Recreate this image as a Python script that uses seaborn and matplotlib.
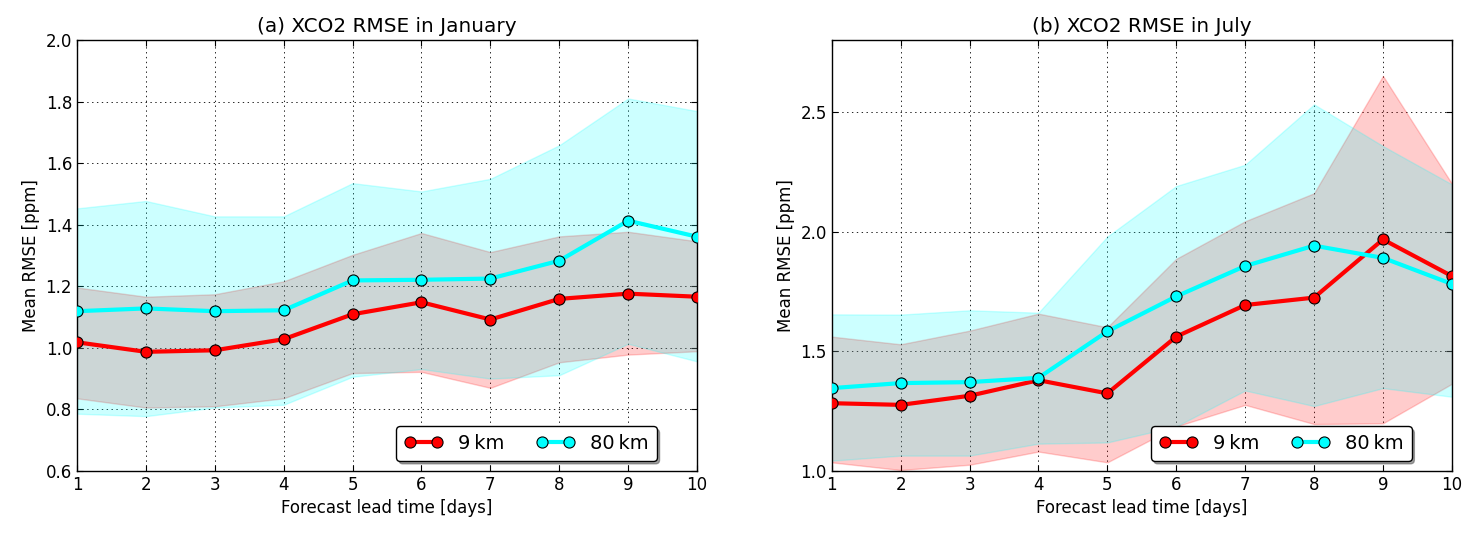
import numpy as np
import matplotlib
matplotlib.use("Agg")
import matplotlib.pyplot as plt
import seaborn as sns

# lead times
days = [1, 2, 3, 4, 5, 6, 7, 8, 9, 10]

# (a) January
jan_9km = [1.018, 0.987, 0.992, 1.028, 1.109, 1.148, 1.092, 1.159, 1.176, 1.166]
jan_9km_lo = [0.836, 0.806, 0.810, 0.836, 0.918, 0.922, 0.870, 0.953, 0.978, 0.989]
jan_9km_hi = [1.196, 1.166, 1.174, 1.216, 1.302, 1.373, 1.311, 1.362, 1.377, 1.346]
jan_80km = [1.119, 1.128, 1.119, 1.122, 1.219, 1.221, 1.225, 1.283, 1.413, 1.361]
jan_80km_lo = [0.786, 0.778, 0.806, 0.815, 0.906, 0.931, 0.900, 0.911, 1.013, 0.956]
jan_80km_hi = [1.453, 1.477, 1.427, 1.427, 1.535, 1.508, 1.549, 1.658, 1.810, 1.769]

# (b) July
jul_9km = [1.283, 1.276, 1.314, 1.379, 1.324, 1.561, 1.693, 1.724, 1.967, 1.814]
jul_9km_lo = [1.036, 1.004, 1.026, 1.081, 1.036, 1.186, 1.276, 1.196, 1.199, 1.364]
jul_9km_hi = [1.561, 1.529, 1.586, 1.657, 1.600, 1.886, 2.043, 2.160, 2.650, 2.200]
jul_80km = [1.346, 1.367, 1.371, 1.389, 1.583, 1.729, 1.856, 1.941, 1.890, 1.781]
jul_80km_lo = [1.043, 1.064, 1.064, 1.114, 1.119, 1.186, 1.336, 1.271, 1.346, 1.310]
jul_80km_hi = [1.654, 1.653, 1.671, 1.661, 1.979, 2.190, 2.279, 2.531, 2.357, 2.197]

titles = ["(a) XCO2 RMSE in January", "(b) XCO2 RMSE in July"]

sns.set_style("ticks", {
    "axes.edgecolor": "black",
    "axes.grid": True,
    "grid.color": "black",
    "xtick.direction": "in",
    "ytick.direction": "in",
    "xtick.top": True,
    "ytick.right": True,
    "text.color": "black",
    "axes.labelcolor": "black",
    "xtick.color": "black",
    "ytick.color": "black",
})
plt.rcParams["font.family"] = ["DejaVu Sans"]
plt.rcParams["lines.scale_dashes"] = False
plt.rcParams["grid.linestyle"] = (0, (1, 2.5))
plt.rcParams["grid.linewidth"] = 0.6
plt.rcParams["axes.linewidth"] = 1.0

fig = plt.figure(figsize=(14.8, 5.37), dpi=100)
ax1 = fig.add_axes([0.052, 0.123, 0.419, 0.8025])
ax2 = fig.add_axes([0.562, 0.123, 0.419, 0.8025])

panels = [
    (ax1, jan_9km, jan_9km_lo, jan_9km_hi, jan_80km, jan_80km_lo, jan_80km_hi),
    (ax2, jul_9km, jul_9km_lo, jul_9km_hi, jul_80km, jul_80km_lo, jul_80km_hi),
]

for i, (ax, r, rlo, rhi, c, clo, chi) in enumerate(panels):
    ax.fill_between(days, rlo, rhi, color="red", alpha=0.2, lw=1)
    ax.fill_between(days, clo, chi, color="cyan", alpha=0.2, lw=1)
    sns.lineplot(x=days, y=r, ax=ax, color="red", lw=3, marker="o", markersize=8,
                 markeredgecolor="black", markeredgewidth=0.8, label="9\u2009km", zorder=4)
    sns.lineplot(x=days, y=c, ax=ax, color="cyan", lw=3, marker="o", markersize=8,
                 markeredgecolor="black", markeredgewidth=0.8, label="80\u2009km", zorder=4)
    ax.set_xlim(1, 10)
    ax.set_xticks(days)
    ax.set_title(titles[i], fontsize=14.4, color="black")
    ax.set_xlabel("Forecast lead time [days]", fontsize=12)
    ax.set_ylabel("Mean RMSE [ppm]", fontsize=12)
    ax.tick_params(labelsize=12, length=4, color="black", labelcolor="black")
    for sp in ax.spines.values():
        sp.set_visible(True)
    ax.legend(loc="lower right", bbox_to_anchor=(0.935, 0.023), borderaxespad=0,
              ncol=2, shadow=True, fancybox=True, numpoints=2, fontsize=14,
              framealpha=1, edgecolor="black", columnspacing=1.6, handlelength=2.0)

ax1.set_ylim(0.6, 2.0)
ax1.set_yticks(np.arange(0.6, 2.01, 0.2))
ax2.set_ylim(1.0, 2.8)
ax2.set_yticks([1.0, 1.5, 2.0, 2.5])

fig.savefig("out.png", dpi=100, facecolor="white")
